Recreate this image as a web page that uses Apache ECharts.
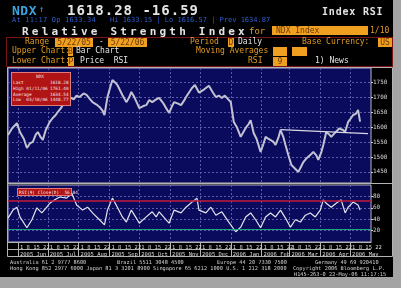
<!DOCTYPE html>
<html>
<head>
<meta charset="utf-8">
<script src="https://cdn.jsdelivr.net/npm/echarts@6/dist/echarts.min.js"></script>
<style>
html,body{margin:0;padding:0;width:401px;height:288px;overflow:hidden;background:#a4a4a4;}
#bg{position:absolute;left:0;top:0;width:393px;height:277px;background:#000;}
#c{position:absolute;left:0;top:0;width:401px;height:288px;}
.t{position:absolute;font-family:"DejaVu Sans Mono",monospace;white-space:pre;line-height:1;}
.o{color:#e09a22;}
.w{color:#e4e4e4;}
.box{position:absolute;background:#f0a020;color:#6a3a00;font-family:"DejaVu Sans Mono",monospace;white-space:pre;line-height:9px;font-size:8px;text-align:center;height:9px;}
.ib{position:absolute;background:#b01414;border:1px solid #e07a7a;box-sizing:border-box;}
.it{position:absolute;font-family:"DejaVu Sans Mono",monospace;white-space:pre;line-height:1;font-size:6px;color:#f0e0e0;transform:scale(0.74);transform-origin:0 0;}
.ft{position:absolute;font-family:"DejaVu Sans Mono",monospace;white-space:pre;line-height:1;font-size:6px;color:#d4d4d4;transform:scale(0.88);transform-origin:0 0;}
</style>
</head>
<body>
<div id="bg"></div>
<div id="c"></div>

<!-- header -->
<div class="t" style="left:12px;top:4px;font-size:13px;font-weight:bold;color:#3aa2dc;letter-spacing:0.5px;">NDX</div>
<div class="t" style="left:39px;top:5px;font-size:9px;color:#3aa2dc;">↑</div>
<div class="t w" style="left:67px;top:3px;font-size:14px;font-weight:bold;letter-spacing:1px;">1618.28 -16.59</div>
<div class="t w" style="left:322px;top:7px;font-size:10px;font-weight:bold;letter-spacing:0.8px;">Index RSI</div>
<div class="t" style="left:12px;top:17px;font-size:7px;color:#2f5fd0;letter-spacing:0.2px;">At 11:17 Op 1633.34</div>
<div class="t" style="left:110px;top:17px;font-size:7px;color:#2f5fd0;">Hi 1633.15 | Lo 1616.57 | Prev 1634.87</div>
<div class="t w" style="left:22px;top:26px;font-size:11px;font-weight:bold;letter-spacing:3.2px;">Relative Strength Index</div>
<div class="t o" style="left:249px;top:27px;font-size:9px;">for</div>
<div class="box" style="left:272px;top:26px;width:96px;text-align:left;padding-left:4px;box-sizing:border-box;">NDX Index</div>
<div class="t o" style="left:370px;top:27px;font-size:8px;">1/10</div>

<div style="position:absolute;left:6px;top:37px;width:387px;height:30px;border:1px solid #7a1414;box-sizing:border-box;"></div>
<div class="t o" style="left:25px;top:38px;font-size:8px;">Range</div>
<div class="box" style="left:55px;top:38px;width:38px;">5/22/05</div>
<div class="t w" style="left:99px;top:38px;font-size:8px;">-</div>
<div class="box" style="left:108px;top:38px;width:39px;">5/22/06</div>
<div class="t o" style="left:190px;top:38px;font-size:8px;">Period</div>
<div class="box" style="left:228px;top:38px;width:6px;">D</div>
<div class="t w" style="left:238px;top:38px;font-size:8px;">Daily</div>
<div class="t o" style="left:302px;top:38px;font-size:8px;">Base Currency:</div>
<div class="box" style="left:378px;top:38px;width:14px;">US</div>

<div class="t o" style="left:12px;top:47px;font-size:8px;">Upper Chart:</div>
<div class="box" style="left:68px;top:47px;width:5px;">B</div>
<div class="t w" style="left:76px;top:47px;font-size:8px;">Bar Chart</div>
<div class="t o" style="left:196px;top:47px;font-size:8px;">Moving Averages</div>
<div class="box" style="left:273px;top:47px;width:14px;"></div>
<div class="box" style="left:292px;top:47px;width:15px;"></div>

<div class="t o" style="left:12px;top:57px;font-size:8px;">Lower Chart:</div>
<div class="box" style="left:68px;top:57px;width:6px;">P</div>
<div class="t w" style="left:80px;top:57px;font-size:8px;">Price  RSI</div>
<div class="t o" style="left:248px;top:57px;font-size:8px;">RSI</div>
<div class="box" style="left:273px;top:57px;width:14px;">9</div>
<div class="t w" style="left:315px;top:57px;font-size:8px;">1) News</div>

<!-- info box -->
<div class="ib" style="left:11px;top:72px;width:60px;height:34px;"></div>
<div class="it" style="left:36px;top:74px;">NDX</div>
<div class="it" style="left:13px;top:80px;">Last</div><div class="it" style="left:50px;top:80px;">1618.28</div>
<div class="it" style="left:13px;top:86px;">High 01/11/06</div><div class="it" style="left:50px;top:86px;">1761.40</div>
<div class="it" style="left:13px;top:91.5px;">Average</div><div class="it" style="left:50px;top:91.5px;">1634.54</div>
<div class="it" style="left:13px;top:97px;">Low  03/10/06</div><div class="it" style="left:50px;top:97px;">1448.77</div>

<div class="ib" style="left:17px;top:188px;width:55px;height:8px;"></div>
<div class="it" style="left:19px;top:190px;">RSI(9) Close(D)  56.84</div>

<!-- footer -->
<div class="ft" style="left:10px;top:259.5px;">Australia 61 2 9777 8600</div>
<div class="ft" style="left:117px;top:259.5px;">Brazil 5511 3048 4500</div>
<div class="ft" style="left:217px;top:259.5px;">Europe 44 20 7330 7500</div>
<div class="ft" style="left:315px;top:259.5px;">Germany 49 69 920410</div>
<div class="ft" style="left:10px;top:265.5px;">Hong Kong 852 2977 6000 Japan 81 3 3201 8900 Singapore 65 6212 1000 U.S. 1 212 318 2000  Copyright 2006 Bloomberg L.P.</div>
<div class="ft" style="left:294px;top:271.5px;">H145-263-0 22-May-06 11:17:15</div>

<script>
// ---- data ----
var startDate = '2005-05-22';
var endDate = '2006-05-22';
var monthNames = ['Jan','Feb','Mar','Apr','May','Jun','Jul','Aug','Sep','Oct','Nov','Dec'];
var weekDays = '1 8 15 22';
// price: day offsets from startDate and NDX levels
var priceDays = [0,4,9,12,16,19,22,25,28,30,33,35,38,42,45,48,50,53,55,58,62,66,69,72,76,79,82,85,89,92,95,97,99,100,103,105,108,110,113,115,119,122,124,127,130,132,136,139,142,145,149,152,156,159,162,165,167,171,174,177,179,182,185,188,190,192,197,202,206,209,212,215,218,220,224,227,230,234,237,239,242,244,247,250,254,257,259,262,264,267,269,272,274,277,279,282,285,289,292,295,297,300,302,305,307,310,312,315,317,320,323,325,328,330,333,335,337,339,342,345,347,350,352,354];
var priceValues = [1573,1595,1613,1583,1560,1530,1545,1550,1575,1583,1565,1557,1590,1617,1630,1640,1650,1662,1673,1690,1700,1692,1705,1700,1712,1707,1695,1683,1675,1667,1655,1640,1680,1700,1735,1757,1748,1740,1720,1707,1683,1700,1717,1700,1678,1663,1670,1673,1690,1683,1692,1697,1680,1663,1647,1670,1683,1678,1673,1688,1700,1715,1730,1740,1735,1715,1725,1738,1715,1700,1705,1697,1705,1707,1683,1617,1600,1567,1585,1597,1610,1623,1580,1560,1517,1545,1567,1560,1557,1550,1540,1565,1590,1565,1540,1505,1473,1460,1450,1470,1483,1495,1500,1510,1517,1505,1490,1515,1540,1583,1575,1567,1578,1583,1595,1600,1590,1583,1617,1630,1640,1645,1657,1618];
var trendDays = [274, 362];
var trendValues = [1591, 1578];
// RSI(9)
var rsiDays = [0,5,9,12,19,24,29,34,39,42,47,52,59,64,69,75,80,85,92,97,100,105,110,115,119,124,129,132,139,145,149,152,159,162,167,174,179,185,190,192,199,204,209,215,222,229,234,239,244,249,254,259,264,269,274,279,284,289,294,299,304,309,314,317,320,325,330,335,339,342,347,352,354];
var rsiValues = [42,56,61,44,25,39,60,51,61,68,74,79,77,86,65,56,61,51,39,30,56,77,61,44,35,56,42,33,44,53,44,53,39,33,56,51,61,70,77,56,51,61,47,53,35,18,26,44,51,39,25,44,51,44,56,42,26,39,35,47,51,44,56,74,68,61,68,74,51,61,70,65,56];
var rsiLevels = [73, 23];

// ---- build ----
var DAY = 86400000;
var t0 = Date.parse(startDate + 'T00:00:00Z');
var t1 = Date.parse(endDate + 'T00:00:00Z');
function pairs(days, vals){ var out=[]; for (var i=0;i<days.length;i++) out.push([t0 + days[i]*DAY, vals[i]]); return out; }

var gridLine = {show:true, lineStyle:{color:'#5a5aa8', width:1, type:[2,2]}};
var chart = echarts.init(document.getElementById('c'), null, {renderer:'canvas'});
chart.setOption({
  animation:false,
  backgroundColor:'transparent',
  grid:[
    {left:8, top:68, width:363, height:115, show:true, backgroundColor:'#0b0b5e', borderColor:'#b4b4b4', borderWidth:1},
    {left:8, top:185, width:363, height:57, show:true, backgroundColor:'#0b0b5e', borderColor:'#b4b4b4', borderWidth:1}
  ],
  xAxis:[
    {gridIndex:0, type:'time', min:t0, max:t1, splitNumber:12,
     axisLine:{show:false}, axisTick:{show:false}, axisLabel:{show:false}, splitLine:gridLine},
    {gridIndex:1, type:'time', min:t0, max:t1, splitNumber:12,
     axisLine:{show:true, lineStyle:{color:'#b4b4b4'}},
     axisTick:{show:true, length:14, lineStyle:{color:'#b4b4b4'}},
     splitLine:gridLine,
     axisLabel:{show:true, interval:0, margin:2, align:'left', padding:[0,0,0,2],
       formatter:function(v){ var d=new Date(v); return '{a|'+weekDays+'}\n{b|'+d.getFullYear()+' '+monthNames[d.getMonth()]+'}'; },
       rich:{a:{fontSize:5.5, lineHeight:7, color:'#dcdcdc', fontFamily:'DejaVu Sans Mono'},
             b:{fontSize:5.5, lineHeight:7, color:'#dcdcdc', fontFamily:'DejaVu Sans Mono'}}}}
  ],
  yAxis:[
    {gridIndex:0, type:'value', position:'right', min:1413, max:1797, splitNumber:8,
     axisLine:{show:false}, axisTick:{show:true, length:2, lineStyle:{color:'#d0d0d0'}},
     axisLabel:{show:true, margin:2, showMinLabel:false, showMaxLabel:false, color:'#d8d8d8', fontSize:6, fontFamily:'DejaVu Sans Mono',
       formatter:function(v){ return String(v); }},
     splitLine:gridLine},
    {gridIndex:1, type:'value', position:'right', min:0, max:100, interval:20,
     axisLine:{show:false}, axisTick:{show:true, length:2, lineStyle:{color:'#d0d0d0'}},
     axisLabel:{show:true, margin:2, showMinLabel:false, showMaxLabel:false, color:'#d8d8d8', fontSize:6, fontFamily:'DejaVu Sans Mono'},
     splitLine:gridLine}
  ],
  graphic:[
    {type:'rect', shape:{x:7.5, y:67.5, width:385, height:189}, style:{fill:null, stroke:'#b4b4b4', lineWidth:1}, z:100},
    {type:'line', shape:{x1:8, y1:249.5, x2:371, y2:249.5}, style:{stroke:'#b4b4b4', lineWidth:1}, z:100},
    {type:'line', shape:{x1:7.5, y1:183.5, x2:392.5, y2:183.5}, style:{stroke:'#b4b4b4', lineWidth:1}, z:100}
  ],
  series:[
    {type:'line', xAxisIndex:0, yAxisIndex:0, data:pairs(priceDays, priceValues), showSymbol:false,
     lineStyle:{color:'#c2c2d2', width:2}, z:3},
    {type:'line', xAxisIndex:0, yAxisIndex:0, data:pairs(trendDays, trendValues), showSymbol:false,
     lineStyle:{color:'#d8d8e4', width:1.2}, z:4},
    {type:'line', xAxisIndex:1, yAxisIndex:1, data:pairs(rsiDays, rsiValues), showSymbol:false,
     lineStyle:{color:'#e4e4ec', width:1.2}, z:3,
     markLine:{silent:true, symbol:'none', label:{show:false},
       data:[{yAxis:rsiLevels[0], lineStyle:{color:'#c41a3a', width:1.5, type:'solid'}},
             {yAxis:rsiLevels[1], lineStyle:{color:'#1aa878', width:1.2, type:'solid'}}]}}
  ]
});
</script>
</body>
</html>
